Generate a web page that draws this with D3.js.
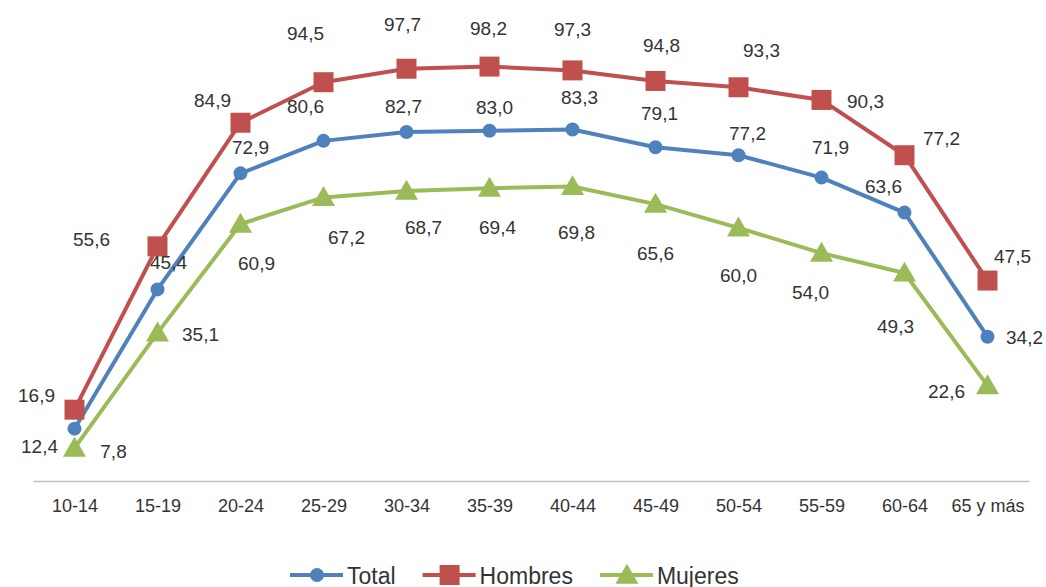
<!DOCTYPE html>
<html>
<head>
<meta charset="utf-8">
<script src="https://cdn.jsdelivr.net/npm/d3@7"></script>
<style>
  html, body { margin: 0; padding: 0; background: #fff; }
  svg { display: block; }
  text { font-family: "Liberation Sans", Arial, sans-serif; fill: #333; }
</style>
</head>
<body>
<svg id="chart" width="1046" height="587"></svg>
<script>
// ---- data ----
const categories = ["10-14","15-19","20-24","25-29","30-34","35-39","40-44","45-49","50-54","55-59","60-64","65 y más"];
const totalValues   = [12.4, 45.4, 72.9, 80.6, 82.7, 83.0, 83.3, 79.1, 77.2, 71.9, 63.6, 34.2];
const hombresValues = [16.9, 55.6, 84.9, 94.5, 97.7, 98.2, 97.3, 94.8, 93.3, 90.3, 77.2, 47.5];
const mujeresValues = [7.8, 35.1, 60.9, 67.2, 68.7, 69.4, 69.8, 65.6, 60.0, 54.0, 49.3, 22.6];
const seriesNames = ["Total", "Hombres", "Mujeres"];

// label offsets (pixels from each point), as placed in the original
const totalLabelOffsets   = [[-35,18],[11,-27],[10,-26],[-18,-34],[-3,-26],[5,-23],[7,-32],[4,-34],[9,-22],[9,-30],[-21,-26],[37,1]];
const hombresLabelOffsets = [[-38,-14],[-66,-7],[-28,-22],[-18,-49],[-4,-44],[-1,-38],[0,-41],[6,-35],[23,-37],[44,2],[37,-17],[25,-24]];
const mujeresLabelOffsets = [[39,3],[43,2],[16,39],[23,40],[17,36],[8,39],[4,46],[0,49],[0,48],[-11,39],[-9,54],[-41,6]];

const series = [
  { name: seriesNames[0], values: totalValues,   offsets: totalLabelOffsets,   color: "#4F81BD", symbol: d3.symbolCircle,   size: 154 },
  { name: seriesNames[1], values: hombresValues, offsets: hombresLabelOffsets, color: "#C0504D", symbol: d3.symbolSquare,   size: 400 },
  { name: seriesNames[2], values: mujeresValues, offsets: mujeresLabelOffsets, color: "#9BBB59", symbol: d3.symbolTriangle, size: 230 }
];

const svg = d3.select("#chart");
const x = d3.scalePoint().domain(categories).range([33, 1029]).padding(0.5);
const y = d3.scaleLinear().domain([0, 100]).range([481, 59]);

// x axis
const xAxis = d3.axisBottom(x).tickSize(0).tickPadding(18);
const gx = svg.append("g").attr("transform", `translate(0,${y(0)})`).call(xAxis);
gx.select(".domain").attr("stroke", "#BFBFBF").attr("stroke-width", 1.5);
gx.selectAll("text").style("font-family", '"Liberation Sans", Arial, sans-serif')
  .style("font-size", "18px").attr("fill", "#333");

const fmt = v => d3.format(".1f")(v).replace(".", ",");
const line = d3.line().x((d, i) => x(categories[i])).y(d => y(d));

series.forEach(s => {
  const g = svg.append("g");
  g.append("path").datum(s.values).attr("d", line)
    .attr("fill", "none").attr("stroke", s.color).attr("stroke-width", 4)
    .attr("stroke-linejoin", "round");
  g.selectAll("path.m").data(s.values).enter().append("path").attr("class", "m")
    .attr("d", d3.symbol().type(s.symbol).size(s.size))
    .attr("transform", (d, i) => `translate(${x(categories[i])},${y(d) + (s.symbol === d3.symbolTriangle ? 2 : 0)})`)
    .attr("fill", s.color);
});

series.forEach(s => {
  svg.append("g").selectAll("text").data(s.values).enter().append("text")
    .attr("x", (d, i) => x(categories[i]) + s.offsets[i][0])
    .attr("y", (d, i) => y(d) + s.offsets[i][1])
    .attr("text-anchor", "middle").attr("dominant-baseline", "central")
    .style("font-size", "19px")
    .text(d => fmt(d));
});

// legend
const legend = svg.append("g").attr("transform", "translate(290,575)");
let lx = 0;
series.forEach(s => {
  const it = legend.append("g").attr("transform", `translate(${lx},0)`);
  it.append("line").attr("x1", 0).attr("x2", 53).attr("y1", 0).attr("y2", 0)
    .attr("stroke", s.color).attr("stroke-width", 4);
  it.append("path").attr("d", d3.symbol().type(s.symbol).size(s.size))
    .attr("transform", `translate(27,${s.symbol === d3.symbolTriangle ? 2 : 0})`).attr("fill", s.color);
  const t = it.append("text").attr("x", 57).attr("y", 8.5).style("font-size", "23px").text(s.name);
  lx += 57 + t.node().getComputedTextLength() + 27;
});
</script>
</body>
</html>
